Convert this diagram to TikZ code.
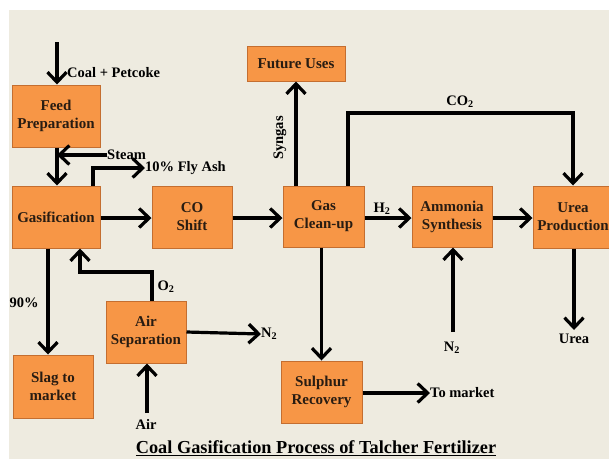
\documentclass[tikz,border=0pt]{standalone}
\usepackage{fontspec}
\setmainfont{Liberation Serif}
\usetikzlibrary{arrows.meta,calc}
\definecolor{bgc}{RGB}{238,235,224}
\definecolor{boxfill}{RGB}{247,150,70}
\definecolor{boxdraw}{RGB}{196,110,48}
\definecolor{boxtext}{RGB}{40,28,18}
\tikzset{
  procbox/.style={draw=boxdraw,line width=1pt,fill=boxfill,minimum width=80pt,minimum height=62pt,inner sep=0pt,align=center,font=\fontsize{15}{18}\selectfont\bfseries,text=boxtext},
  flow/.style={line width=3.2pt,-{Straight Barb[length=10pt,width=19pt,line width=3.2pt]}},
  lbl/.style={inner sep=0pt,font=\fontsize{14.5}{17}\selectfont\bfseries,text=black}
}
\begin{document}
\begin{tikzpicture}[x=1pt,y=-1pt]
\useasboundingbox (0,0) rectangle (609,459);
\fill[white] (0,0) rectangle (609,459);
\fill[bgc] (9,10) rectangle (609,459);
% boxes
\node[procbox,minimum width=88pt] (feed) at (56,116) {Feed\\Preparation};
\node[procbox,minimum width=88pt] (gas) at (56,217) {Gasification};
\node[procbox] (co) at (192,217) {CO\\Shift};
\node[procbox,minimum width=81pt,minimum height=61pt] (clean) at (323.5,216.5) {Gas\\Clean-up};
\node[procbox,minimum height=61pt] (amm) at (452,216.5) {Ammonia\\Synthesis};
\node[procbox] (urea) at (573,217) {Urea\\Production};
\node[procbox,minimum width=98pt,minimum height=35pt] (future) at (296,63.5) {Future Uses};
\node[procbox,minimum height=63pt] (slag) at (53,386.5) {Slag to\\market};
\node[procbox] (air) at (146,332) {Air\\Separation};
\node[procbox,minimum width=81pt] (sulphur) at (321.5,392) {Sulphur\\Recovery};
% labels
\node[lbl,anchor=west] (coal) at (67,73) {Coal + Petcoke};
\node[lbl,anchor=west] (steam) at (107,155) {Steam};
\node[lbl,anchor=west] (fly) at (145,168) {10\% Fly Ash};
\node[lbl] (h2) at (382,209) {H\textsubscript{2}};
\node[lbl] (co2) at (460,102) {CO\textsubscript{2}};
\node[lbl,rotate=90] (syn) at (280,138) {Syngas};
\node[lbl] (pct) at (24,303) {90\%};
\node[lbl] (o2) at (166,287) {O\textsubscript{2}};
\node[lbl,anchor=west] (n2a) at (261,334) {N\textsubscript{2}};
\node[lbl] (airin) at (146,424) {Air};
\node[lbl,anchor=west] (mkt) at (430,393) {To market};
\node[lbl] (n2b) at (452,348) {N\textsubscript{2}};
\node[lbl] (ureaout) at (574,339) {Urea};
\node[inner sep=0pt,font=\fontsize{18.3}{20}\selectfont\bfseries] (title) at (316,448) {\underline{Coal Gasification Process of Talcher Fertilizer}};
% coordinates
\coordinate (coaltop) at (57,42);
\coordinate (flyc) at (93,167);
\coordinate (slagx) at (48,0);
\coordinate (o2c) at (80,272);
\coordinate (o2x) at (152,0);
\coordinate (co2c) at (348,113);
\coordinate (n2bot) at (453,332);
\coordinate (ureaend) at (574,330);
\coordinate (airbot) at (147,413);
% connectors
\draw[flow] (coaltop) -- (coaltop |- feed.north);
\draw[flow] (feed.south -| coaltop) -- (gas.north -| coaltop);
\draw[flow] (steam.west) -- (steam.west -| coaltop);
\draw[flow] (gas.north -| flyc) |- (fly.west);
\draw[flow] (gas.east |- 0,218) -- (co.west |- 0,218);
\draw[flow] (co.east |- 0,218) -- (clean.west |- 0,218);
\draw[flow] (clean.east |- 0,218) -- (amm.west |- 0,218);
\draw[flow] (amm.east |- 0,218) -- (urea.west |- 0,218);
\draw[flow] (clean.north -| future.south) -- (future.south);
\draw[flow] (clean.north -| co2c) -- (co2c) -| (urea.north);
\draw[flow] (clean.south -| sulphur.north) -- (sulphur.north);
\draw[flow] (sulphur.east |- mkt.west) -- (mkt.west);
\draw[flow] (n2bot) -- (amm.south -| n2bot);
\draw[flow] (urea.south -| ureaend) -- (ureaend);
\draw[flow] (gas.south -| slagx) -- (slag.north -| slagx);
\draw[flow] (air.north -| o2x) |- (o2c) -- (gas.south -| o2c);
\draw[flow] (air.east) -- (n2a.west);
\draw[flow] (airbot) -- (air.south -| airbot);
\end{tikzpicture}
\end{document}
